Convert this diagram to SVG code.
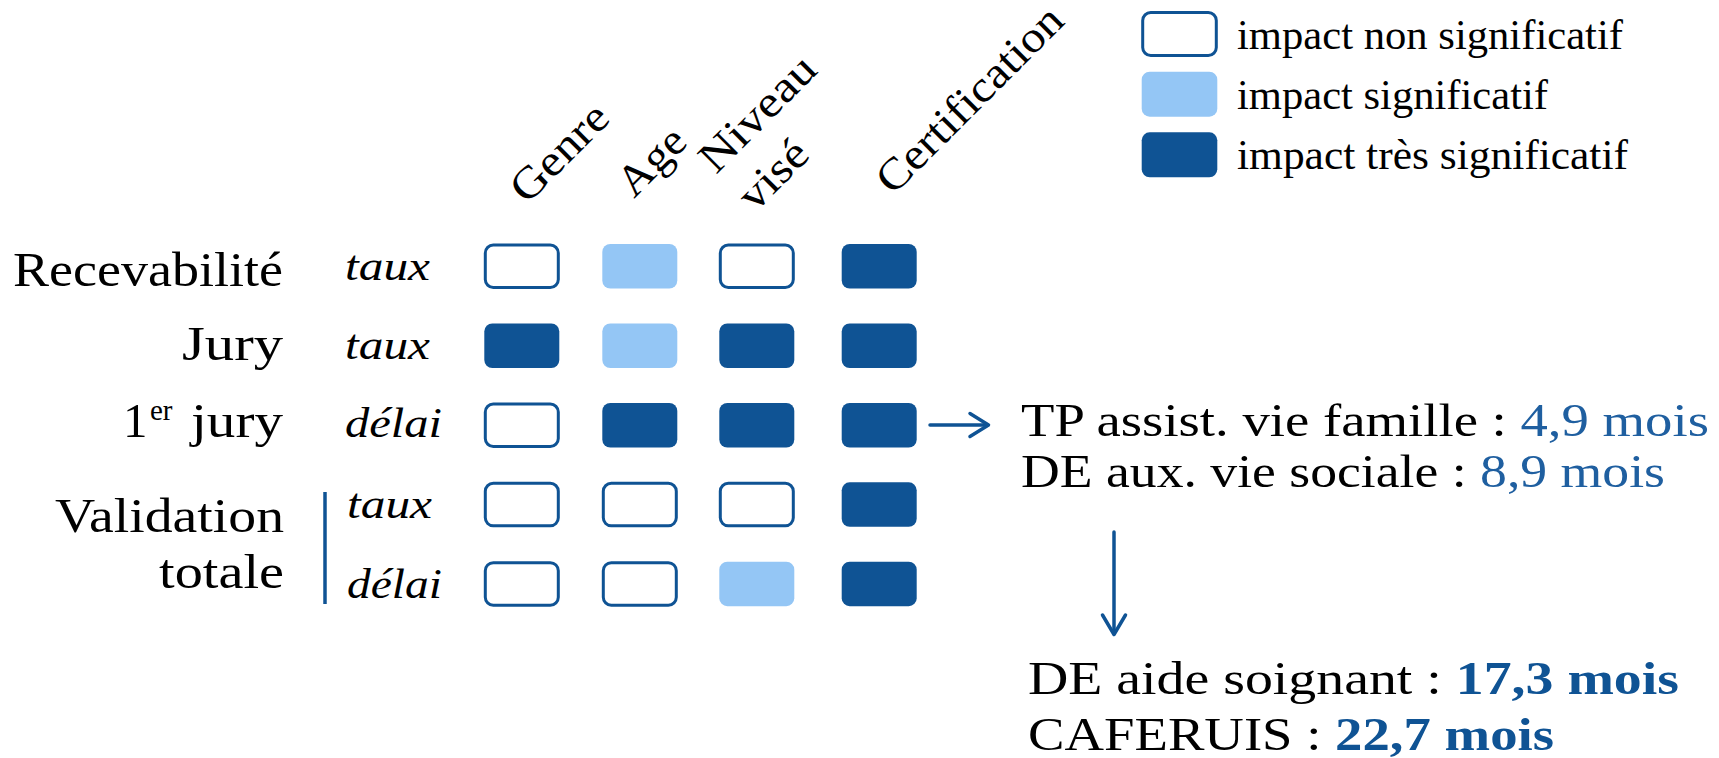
<svg xmlns="http://www.w3.org/2000/svg" width="1719" height="758" viewBox="0 0 1719 758">
<style>
  text { font-family: "Liberation Serif", "DejaVu Serif", serif; fill: #000; }
  .lab { font-size: 49px; }
  .it { font-size: 42px; font-style: italic; }
  .hd { font-size: 44px; }
  .leg { font-size: 42px; }
  .res { font-size: 47px; }
  .num { fill: #1F5FA0; }
  .bnum { fill: #0F5394; font-weight: bold; }
  .w { fill: #FFFFFF; stroke: #0F5394; stroke-width: 3; }
  .l { fill: #94C6F5; }
  .d { fill: #0F5394; }
  .conn { fill: none; stroke: #0F5394; stroke-width: 3.5; stroke-linecap: round; stroke-linejoin: round; }
</style>

<!-- Column headers -->
<g id="col-genre"><text class="hd" x="527" y="205" transform="rotate(-45 527 205)" textLength="120" lengthAdjust="spacingAndGlyphs">Genre</text></g>
<g id="col-age"><text class="hd" x="634" y="199" transform="rotate(-45 634 199)" textLength="78" lengthAdjust="spacingAndGlyphs">Age</text></g>
<g id="col-niveau">
  <text class="hd" x="716" y="175" transform="rotate(-45 716 175)" textLength="146" lengthAdjust="spacingAndGlyphs">Niveau</text>
  <text class="hd" x="755" y="213" transform="rotate(-45 755 213)" textLength="80" lengthAdjust="spacingAndGlyphs">visé</text>
</g>
<g id="col-certification"><text class="hd" x="893" y="196" transform="rotate(-45 893 196)" textLength="245" lengthAdjust="spacingAndGlyphs">Certification</text></g>

<!-- Legend -->
<g id="legend">
  <g id="legend-non">
    <rect class="w" x="1142.7" y="12.5" width="73.6" height="43" rx="8"/>
    <text class="leg" x="1237" y="48.5" textLength="386" lengthAdjust="spacingAndGlyphs">impact non significatif</text>
  </g>
  <g id="legend-sig">
    <rect class="l" x="1141.7" y="71.7" width="75.6" height="45" rx="8"/>
    <text class="leg" x="1237" y="108.5" textLength="311" lengthAdjust="spacingAndGlyphs">impact significatif</text>
  </g>
  <g id="legend-tres">
    <rect class="d" x="1141.7" y="132.3" width="75.6" height="45" rx="8"/>
    <text class="leg" x="1237" y="168.5" textLength="391" lengthAdjust="spacingAndGlyphs">impact très significatif</text>
  </g>
</g>

<!-- Row 1: Recevabilité -->
<g id="row-recevabilite">
  <text class="lab" x="283" y="286" text-anchor="end" textLength="270" lengthAdjust="spacingAndGlyphs">Recevabilité</text>
  <text class="it" x="345" y="280" textLength="85" lengthAdjust="spacingAndGlyphs">taux</text>
  <rect id="c11" class="w" x="485.3" y="245" width="73" height="42.5" rx="8"/>
  <rect id="c12" class="l" x="602.3" y="244" width="75" height="44.5" rx="8"/>
  <rect id="c13" class="w" x="720.3" y="245" width="73" height="42.5" rx="8"/>
  <rect id="c14" class="d" x="841.7" y="244" width="75" height="44.5" rx="8"/>
</g>

<!-- Row 2: Jury -->
<g id="row-jury">
  <text class="lab" x="283" y="360" text-anchor="end" textLength="101" lengthAdjust="spacingAndGlyphs">Jury</text>
  <text class="it" x="345" y="359" textLength="85" lengthAdjust="spacingAndGlyphs">taux</text>
  <rect id="c21" class="d" x="484.3" y="323.5" width="75" height="44.5" rx="8"/>
  <rect id="c22" class="l" x="602.3" y="323.5" width="75" height="44.5" rx="8"/>
  <rect id="c23" class="d" x="719.3" y="323.5" width="75" height="44.5" rx="8"/>
  <rect id="c24" class="d" x="841.7" y="323.5" width="75" height="44.5" rx="8"/>
</g>

<!-- Row 3: 1er jury -->
<g id="row-premier-jury">
  <text class="lab" x="123" y="437">1<tspan x="150" y="420" font-size="29">er</tspan><tspan x="191" y="437" textLength="92" lengthAdjust="spacingAndGlyphs">jury</tspan></text>
  <text class="it" x="345" y="437" textLength="97" lengthAdjust="spacingAndGlyphs">délai</text>
  <rect id="c31" class="w" x="485.3" y="404" width="73" height="42.5" rx="8"/>
  <rect id="c32" class="d" x="602.3" y="403" width="75" height="44.5" rx="8"/>
  <rect id="c33" class="d" x="719.3" y="403" width="75" height="44.5" rx="8"/>
  <rect id="c34" class="d" x="841.7" y="403" width="75" height="44.5" rx="8"/>
</g>

<!-- Rows 4-5: Validation totale -->
<g id="row-validation">
  <text class="lab" x="284" y="531.5" text-anchor="end" textLength="229" lengthAdjust="spacingAndGlyphs">Validation</text>
  <text class="lab" x="284" y="588" text-anchor="end" textLength="125" lengthAdjust="spacingAndGlyphs">totale</text>
  <line x1="325" y1="492" x2="325" y2="604" stroke="#0F5394" stroke-width="3.5"/>
  <g id="row-validation-taux">
    <text class="it" x="347" y="518" textLength="85" lengthAdjust="spacingAndGlyphs">taux</text>
    <rect id="c41" class="w" x="485.3" y="483.3" width="73" height="42.5" rx="8"/>
    <rect id="c42" class="w" x="603.3" y="483.3" width="73" height="42.5" rx="8"/>
    <rect id="c43" class="w" x="720.3" y="483.3" width="73" height="42.5" rx="8"/>
    <rect id="c44" class="d" x="841.7" y="482.3" width="75" height="44.5" rx="8"/>
  </g>
  <g id="row-validation-delai">
    <text class="it" x="347" y="597.7" textLength="95" lengthAdjust="spacingAndGlyphs">délai</text>
    <rect id="c51" class="w" x="485.3" y="562.7" width="73" height="42.5" rx="8"/>
    <rect id="c52" class="w" x="603.3" y="562.7" width="73" height="42.5" rx="8"/>
    <rect id="c53" class="l" x="719.3" y="561.7" width="75" height="44.5" rx="8"/>
    <rect id="c54" class="d" x="841.7" y="561.7" width="75" height="44.5" rx="8"/>
  </g>
</g>

<!-- Results -->
<g id="result-short">
  <text class="res" x="1021" y="436" textLength="688" lengthAdjust="spacingAndGlyphs">TP assist. vie famille : <tspan class="num">4,9 mois</tspan></text>
  <text class="res" x="1021" y="486.7" textLength="644" lengthAdjust="spacingAndGlyphs">DE aux. vie sociale : <tspan class="num">8,9 mois</tspan></text>
</g>
<g id="result-long">
  <text class="res" x="1028" y="693.5" textLength="651" lengthAdjust="spacingAndGlyphs">DE aide soignant : <tspan class="bnum">17,3 mois</tspan></text>
  <text class="res" x="1028" y="750" textLength="526" lengthAdjust="spacingAndGlyphs">CAFERUIS : <tspan class="bnum">22,7 mois</tspan></text>
</g>

<!-- Connectors -->
<g id="connectors">
  <g id="arrow-right">
    <line class="conn" x1="930" y1="425" x2="987" y2="425"/>
    <polyline class="conn" points="970,413.5 988.5,425 970,436.5"/>
  </g>
  <g id="arrow-down">
    <line class="conn" x1="1114" y1="532" x2="1114" y2="633"/>
    <polyline class="conn" points="1102.5,615 1114,634.5 1125.5,615"/>
  </g>
</g>
</svg>
